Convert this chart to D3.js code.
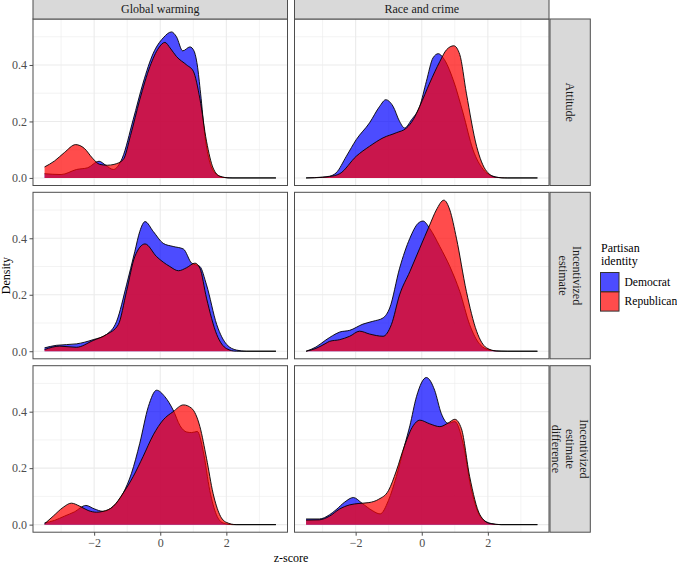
<!DOCTYPE html>
<html>
<head>
<meta charset="utf-8">
<script src="https://cdn.jsdelivr.net/npm/d3@7"></script>
<style>
  html, body { margin: 0; padding: 0; background: #fff; }
  svg { display: block; font-family: "Liberation Serif", "Times New Roman", serif; }
</style>
</head>
<body>
<svg id="chart" width="677" height="564"></svg>
<script>
// ---------------- data ----------------
const columns = ["Global warming", "Race and crime"];
const rows = [["Attitude"], ["Incentivized", "estimate"], ["Incentivized", "estimate", "difference"]];
const parties = ["Democrat", "Republican"];
const partyColors = ["#0000ff", "#ff0000"];
const xTicks = [-2, 0, 2];
const xMinor = [-3, -1, 1, 3];
const yTicks = [0, 0.2, 0.4];
const yMinor = [0.1, 0.3, 0.5];
const legendTitle = ["Partisan", "identity"];
const xTitle = "z-score";
const yTitle = "Density";

// densities: [z-score, density]
const gwAttitudeDem = [[-3.5,0.015],[-3.0,0.012],[-2.53,0.03],[-2.2,0.036],[-1.85,0.059],[-1.65,0.045],[-1.42,0.03],[-1.15,0.07],[-0.82,0.206],[-0.52,0.336],[-0.21,0.442],[0.09,0.496],[0.34,0.517],[0.49,0.50],[0.68,0.45],[0.9,0.464],[1.02,0.45],[1.12,0.40],[1.22,0.30],[1.35,0.15],[1.5,0.055],[1.65,0.018],[1.9,0.002],[2.2,0],[3.5,0]];
const gwAttitudeRep = [[-3.5,0.039],[-3.2,0.06],[-2.9,0.09],[-2.56,0.118],[-2.3,0.105],[-2.05,0.07],[-1.83,0.048],[-1.6,0.045],[-1.4,0.048],[-1.12,0.065],[-0.9,0.15],[-0.62,0.277],[-0.31,0.395],[-0.05,0.46],[0.14,0.48],[0.3,0.46],[0.49,0.43],[0.8,0.40],[1.0,0.378],[1.2,0.28],[1.4,0.13],[1.6,0.035],[1.81,0.006],[2.1,0],[3.5,0]];

const rcAttitudeDem = [[-3.5,0],[-3.0,0.003],[-2.79,0.006],[-2.59,0.018],[-2.28,0.077],[-1.98,0.136],[-1.58,0.195],[-1.27,0.254],[-1.09,0.277],[-0.87,0.254],[-0.67,0.20],[-0.52,0.177],[-0.31,0.206],[-0.06,0.254],[0.14,0.342],[0.34,0.425],[0.5,0.44],[0.65,0.425],[0.95,0.348],[1.25,0.23],[1.55,0.10],[1.86,0.03],[2.16,0.006],[2.5,0],[3.5,0]];
const rcAttitudeRep = [[-3.5,0],[-3.0,0.002],[-2.79,0.005],[-2.48,0.015],[-1.98,0.077],[-1.58,0.112],[-1.17,0.142],[-0.77,0.16],[-0.46,0.177],[-0.26,0.206],[-0.06,0.254],[0.24,0.336],[0.55,0.413],[0.75,0.454],[0.97,0.468],[1.15,0.437],[1.35,0.30],[1.66,0.112],[1.96,0.024],[2.26,0.002],[2.6,0],[3.5,0]];

const gwEstimateDem = [[-3.5,0.012],[-3.14,0.021],[-2.54,0.026],[-2.03,0.041],[-1.63,0.059],[-1.32,0.106],[-1.02,0.235],[-0.77,0.353],[-0.62,0.424],[-0.46,0.459],[-0.21,0.424],[0.09,0.382],[0.39,0.371],[0.7,0.362],[0.95,0.312],[1.2,0.30],[1.4,0.235],[1.71,0.094],[2.01,0.024],[2.31,0.004],[2.6,0],[3.5,0]];
const gwEstimateRep = [[-3.5,0.006],[-3.04,0.018],[-2.54,0.014],[-2.03,0.038],[-1.63,0.059],[-1.27,0.094],[-1.02,0.212],[-0.77,0.335],[-0.46,0.38],[-0.11,0.335],[0.29,0.30],[0.55,0.285],[0.8,0.296],[1.05,0.312],[1.2,0.294],[1.4,0.188],[1.71,0.059],[2.01,0.009],[2.3,0],[3.5,0]];

const rcEstimateDem = [[-3.5,0],[-3.2,0.015],[-2.9,0.04],[-2.7,0.055],[-2.48,0.068],[-2.18,0.074],[-1.78,0.096],[-1.48,0.106],[-1.17,0.118],[-0.97,0.153],[-0.67,0.294],[-0.36,0.40],[-0.11,0.453],[0.04,0.461],[0.24,0.435],[0.55,0.37],[0.85,0.30],[1.15,0.212],[1.45,0.094],[1.76,0.024],[2.06,0.004],[2.4,0],[3.5,0]];
const rcEstimateRep = [[-3.5,0],[-3.2,0.01],[-2.9,0.028],[-2.79,0.035],[-2.48,0.041],[-2.18,0.053],[-1.88,0.071],[-1.58,0.061],[-1.17,0.053],[-0.92,0.094],[-0.67,0.20],[-0.36,0.282],[-0.06,0.365],[0.24,0.447],[0.44,0.50],[0.67,0.535],[0.85,0.50],[1.05,0.40],[1.35,0.212],[1.66,0.071],[1.96,0.012],[2.26,0.001],[2.6,0],[3.5,0]];

const gwDifferenceDem = [[-3.5,0.006],[-3.2,0.015],[-2.9,0.03],[-2.6,0.045],[-2.25,0.068],[-2.0,0.056],[-1.73,0.047],[-1.42,0.065],[-1.12,0.112],[-0.87,0.182],[-0.62,0.288],[-0.36,0.418],[-0.11,0.476],[0.14,0.453],[0.39,0.406],[0.6,0.35],[0.8,0.328],[0.95,0.326],[1.12,0.33],[1.3,0.26],[1.5,0.12],[1.7,0.035],[1.9,0.006],[2.2,0],[3.5,0]];
const gwDifferenceRep = [[-3.5,0.003],[-3.24,0.03],[-2.94,0.061],[-2.69,0.076],[-2.43,0.065],[-2.18,0.05],[-1.93,0.044],[-1.73,0.047],[-1.42,0.065],[-1.12,0.112],[-0.82,0.17],[-0.52,0.241],[-0.21,0.318],[0.09,0.371],[0.39,0.40],[0.7,0.424],[0.95,0.412],[1.2,0.347],[1.4,0.235],[1.6,0.11],[1.8,0.035],[2.0,0.008],[2.3,0],[3.5,0]];

const rcDifferenceDem = [[-3.5,0.02],[-3.1,0.02],[-2.79,0.035],[-2.59,0.053],[-2.33,0.08],[-2.07,0.096],[-1.8,0.075],[-1.5,0.05],[-1.26,0.038],[-1.01,0.085],[-0.77,0.17],[-0.52,0.28],[-0.36,0.35],[-0.16,0.453],[0.14,0.521],[0.39,0.476],[0.59,0.394],[0.8,0.359],[1.0,0.365],[1.25,0.288],[1.5,0.124],[1.8,0.024],[2.1,0.004],[2.4,0],[3.5,0]];
const rcDifferenceRep = [[-3.5,0.016],[-3.1,0.017],[-2.79,0.03],[-2.49,0.055],[-2.18,0.07],[-1.9,0.075],[-1.6,0.078],[-1.3,0.09],[-1.01,0.12],[-0.77,0.19],[-0.52,0.28],[-0.26,0.35],[-0.06,0.37],[0.24,0.357],[0.55,0.347],[0.8,0.36],[1.0,0.373],[1.2,0.34],[1.45,0.17],[1.76,0.035],[2.06,0.004],[2.4,0],[3.5,0]];

const panelData = [
  [[gwAttitudeDem, gwAttitudeRep], [rcAttitudeDem, rcAttitudeRep]],
  [[gwEstimateDem, gwEstimateRep], [rcEstimateDem, rcEstimateRep]],
  [[gwDifferenceDem, gwDifferenceRep], [rcDifferenceDem, rcDifferenceRep]]
];

// ---------------- layout ----------------
const svg = d3.select("#chart");
const colX = [[33, 287.5], [294.5, 549]];
const rowTop = [19, 192.3, 365.7];
const panelH = 166.5;
const stripTopH = 19.5;
const stripRight = [550, 590.3];
const border = "#4d4d4d";
const grid = "#ebebeb";
const textGrey = "#4d4d4d";
const serif = "Liberation Serif";

const xDomain = [-3.85, 3.85];
const yDomain = [-0.0268, 0.5628];

const area = d3.area().curve(d3.curveMonotoneX);
const line = d3.line().curve(d3.curveMonotoneX);

rows.forEach((rowLabel, r) => {
  const y0 = rowTop[r], y1 = rowTop[r] + panelH;
  const y = d3.scaleLinear().domain(yDomain).range([y1, y0]);
  columns.forEach((colLabel, c) => {
    const [x0, x1] = colX[c];
    const x = d3.scaleLinear().domain(xDomain).range([x0, x1]);
    const g = svg.append("g");
    const clipId = `clip-${r}-${c}`;
    svg.append("clipPath").attr("id", clipId).append("rect")
      .attr("x", x0).attr("y", y0).attr("width", x1 - x0).attr("height", y1 - y0);

    g.append("rect").attr("x", x0).attr("y", y0).attr("width", x1 - x0).attr("height", y1 - y0).attr("fill", "#fff");
    xMinor.forEach(v => g.append("line").attr("x1", x(v)).attr("x2", x(v)).attr("y1", y0).attr("y2", y1).attr("stroke", grid).attr("stroke-width", 0.6));
    yMinor.forEach(v => g.append("line").attr("x1", x0).attr("x2", x1).attr("y1", y(v)).attr("y2", y(v)).attr("stroke", grid).attr("stroke-width", 0.6));
    xTicks.forEach(v => g.append("line").attr("x1", x(v)).attr("x2", x(v)).attr("y1", y0).attr("y2", y1).attr("stroke", grid).attr("stroke-width", 1.1));
    yTicks.forEach(v => g.append("line").attr("x1", x0).attr("x2", x1).attr("y1", y(v)).attr("y2", y(v)).attr("stroke", grid).attr("stroke-width", 1.1));

    const marks = g.append("g").attr("clip-path", `url(#${clipId})`);
    panelData[r][c].forEach((pts, p) => {
      area.x(d => x(d[0])).y0(y(0)).y1(d => y(d[1]));
      line.x(d => x(d[0])).y(d => y(d[1]));
      marks.append("path").attr("d", area(pts)).attr("fill", partyColors[p]).attr("fill-opacity", 0.7);
      marks.append("path").attr("d", line(pts)).attr("fill", "none").attr("stroke", "#000").attr("stroke-width", 0.9);
    });

    g.append("rect").attr("x", x0).attr("y", y0).attr("width", x1 - x0).attr("height", y1 - y0)
      .attr("fill", "none").attr("stroke", border).attr("stroke-width", 1);

    if (c === 0) {
      const ax = svg.append("g").attr("transform", `translate(${x0},0)`)
        .call(d3.axisLeft(y).tickValues(yTicks).tickFormat(d3.format(".1f")).tickSize(3.5).tickPadding(2.5));
      ax.attr("font-family", serif);
      ax.select(".domain").remove();
      ax.selectAll(".tick line").attr("stroke", border);
      ax.selectAll(".tick text").attr("fill", textGrey).attr("font-size", 12);
    }
    if (r === rows.length - 1) {
      const ax = svg.append("g").attr("transform", `translate(0,${y1})`)
        .call(d3.axisBottom(x).tickValues(xTicks).tickFormat(d3.format("d")).tickSize(3.5).tickPadding(3));
      ax.attr("font-family", serif);
      ax.select(".domain").remove();
      ax.selectAll(".tick line").attr("stroke", border);
      ax.selectAll(".tick text").attr("fill", textGrey).attr("font-size", 12);
    }
    if (r === 0) {
      svg.append("rect").attr("x", x0).attr("y", y0 - stripTopH).attr("width", x1 - x0).attr("height", stripTopH)
        .attr("fill", "#d9d9d9").attr("stroke", border).attr("stroke-width", 1);
      svg.append("text").attr("x", (x0 + x1) / 2).attr("y", y0 - stripTopH / 2).attr("dy", "0.35em")
        .attr("text-anchor", "middle").attr("font-size", 12).attr("fill", "#1a1a1a").text(colLabel);
    }
  });
  const sx0 = stripRight[0], sx1 = stripRight[1];
  svg.append("rect").attr("x", sx0).attr("y", y0).attr("width", sx1 - sx0).attr("height", panelH)
    .attr("fill", "#d9d9d9").attr("stroke", border).attr("stroke-width", 1);
  const t = svg.append("text").attr("transform", `translate(${(sx0 + sx1) / 2},${(y0 + y1) / 2}) rotate(90)`)
    .attr("text-anchor", "middle").attr("font-size", 12).attr("fill", "#1a1a1a");
  rowLabel.forEach((s, i) => {
    t.append("tspan").attr("x", 0).attr("y", (i - (rowLabel.length - 1) / 2) * 14).attr("dy", "0.35em").text(s);
  });
});

// axis titles
svg.append("text").attr("x", (colX[0][0] + colX[1][1]) / 2).attr("y", 562).attr("text-anchor", "middle")
  .attr("font-size", 12).attr("fill", "#000").text(xTitle);
svg.append("text").attr("transform", `translate(10,${(rowTop[0] + rowTop[2] + panelH) / 2}) rotate(-90)`)
  .attr("text-anchor", "middle").attr("font-size", 12).attr("fill", "#000").text(yTitle);

// legend
const lg = svg.append("g");
legendTitle.forEach((s, i) => {
  lg.append("text").attr("x", 601).attr("y", 251.7 + i * 13.5).attr("font-size", 12).attr("fill", "#000").text(s);
});
parties.forEach((p, i) => {
  const ky = 272.5 + i * 19.3;
  lg.append("rect").attr("x", 600.5).attr("y", ky).attr("width", 18.5).attr("height", 19.3)
    .attr("fill", partyColors[i]).attr("fill-opacity", 0.7).attr("stroke", "#333").attr("stroke-width", 1);
  lg.append("text").attr("x", 624.5).attr("y", ky + 9.6).attr("dy", "0.35em").attr("font-size", 11.6).attr("fill", "#000").text(p);
});
</script>
</body>
</html>
